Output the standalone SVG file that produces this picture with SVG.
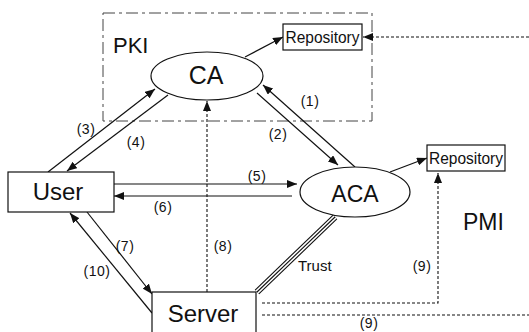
<svg xmlns="http://www.w3.org/2000/svg" width="529" height="332" viewBox="0 0 529 332">
<style>
  .ln{stroke:#111;stroke-width:1.2;fill:none}
  .dot{stroke:#111;stroke-width:1.1;fill:none;stroke-dasharray:3,2}
  .box{fill:#fff;stroke:#111;stroke-width:1.2}
  .big{font-family:"Liberation Sans",Arial,sans-serif;fill:#111}
  .lbl{font-family:"Liberation Sans",Arial,sans-serif;font-size:14px;fill:#111;text-anchor:middle;letter-spacing:0.5px}
</style>
<defs>
  <marker id="ah" markerUnits="userSpaceOnUse" markerWidth="10" markerHeight="8" refX="10" refY="4" orient="auto">
    <path d="M0,0 L10,4 L0,8 z" fill="#111"/>
  </marker>
</defs>
<rect width="529" height="332" fill="#fff"/>

<g id="pki">
  <rect x="103" y="13" width="269" height="108" fill="none" stroke="#444" stroke-width="1" stroke-dasharray="12,4,3,4"/>
  <text class="big" x="113" y="53" font-size="22">PKI</text>
</g>

<g id="connectors">
  <line class="ln" x1="48" y1="172" x2="155" y2="89" marker-end="url(#ah)"/>
  <line class="ln" x1="168" y1="95" x2="67" y2="171" marker-end="url(#ah)"/>
  <line class="ln" x1="355" y1="167" x2="263" y2="85" marker-end="url(#ah)"/>
  <line class="ln" x1="257" y1="93" x2="338" y2="165" marker-end="url(#ah)"/>
  <line class="ln" x1="245" y1="57" x2="283" y2="37" marker-end="url(#ah)"/>
  <line class="ln" x1="390" y1="172" x2="427" y2="158" marker-end="url(#ah)"/>
  <line class="ln" x1="114" y1="184" x2="297" y2="184" marker-end="url(#ah)"/>
  <line class="ln" x1="292" y1="196" x2="114" y2="196" marker-end="url(#ah)"/>
  <line class="ln" x1="87" y1="212" x2="152" y2="294" marker-end="url(#ah)"/>
  <line class="ln" x1="152" y1="313" x2="70" y2="213" marker-end="url(#ah)"/>
  <line class="dot" x1="207" y1="292" x2="207" y2="101" marker-end="url(#ah)"/>
  <line class="dot" x1="529" y1="37" x2="363" y2="37" stroke-dasharray="4,2" marker-end="url(#ah)"/>
  <path class="dot" d="M262,303 H438 V173" stroke-dasharray="4,2" marker-end="url(#ah)"/>
  <line class="dot" x1="262" y1="315" x2="529" y2="315" stroke-dasharray="4,2"/>
  <g id="trust">
    <line x1="335" y1="217" x2="257" y2="292" stroke="#111" stroke-width="6.5"/>
    <line x1="335" y1="217" x2="257" y2="292" stroke="#fff" stroke-width="4.3"/>
    <line x1="335" y1="217" x2="257" y2="292" stroke="#111" stroke-width="1.1"/>
  </g>
  <text class="lbl" x="310" y="106">(1)</text>
  <text class="lbl" x="278" y="139">(2)</text>
  <text class="lbl" x="86" y="134">(3)</text>
  <text class="lbl" x="136" y="147">(4)</text>
  <text class="lbl" x="257" y="181">(5)</text>
  <text class="lbl" x="163" y="212">(6)</text>
  <text class="lbl" x="125" y="251">(7)</text>
  <text class="lbl" x="223" y="251">(8)</text>
  <text class="lbl" x="422" y="271">(9)</text>
  <text class="lbl" x="369" y="328">(9)</text>
  <text class="lbl" x="97" y="276">(10)</text>
  <text class="big" x="298" y="271" font-size="15">Trust</text>
</g>

<g id="ca">
  <ellipse class="box" cx="207" cy="76" rx="56" ry="24"/>
  <text class="big" x="206" y="84" font-size="25" text-anchor="middle">CA</text>
</g>

<g id="repo-pki">
  <rect class="box" x="283" y="24" width="79" height="26"/>
  <text class="big" x="322.5" y="43" font-size="16" text-anchor="middle" textLength="74" lengthAdjust="spacingAndGlyphs">Repository</text>
</g>

<g id="aca">
  <ellipse class="box" cx="355" cy="192" rx="55" ry="25"/>
  <text class="big" x="355" y="202" font-size="23" text-anchor="middle">ACA</text>
</g>

<g id="repo-pmi">
  <rect class="box" x="427" y="145" width="78" height="26"/>
  <text class="big" x="466" y="164" font-size="16" text-anchor="middle" textLength="74" lengthAdjust="spacingAndGlyphs">Repository</text>
</g>

<g id="pmi">
  <text class="big" x="463" y="230" font-size="23">PMI</text>
</g>

<g id="user">
  <rect class="box" x="8" y="172" width="106" height="40"/>
  <text class="big" x="58" y="200" font-size="24" text-anchor="middle">User</text>
</g>

<g id="server">
  <rect class="box" x="152" y="292" width="104" height="50"/>
  <text class="big" x="203" y="322" font-size="24" text-anchor="middle">Server</text>
</g>
</svg>
